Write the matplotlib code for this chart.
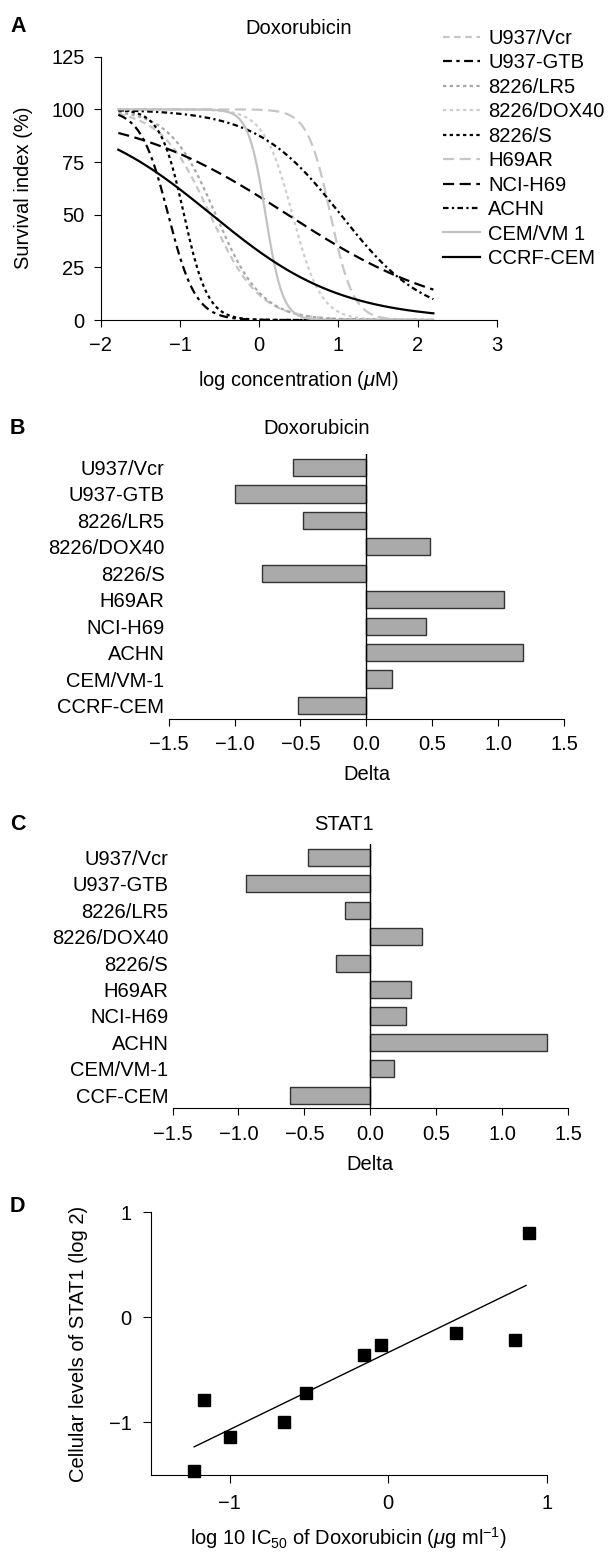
import numpy as np
import matplotlib
matplotlib.use("Agg")
import matplotlib.pyplot as plt
from matplotlib.lines import Line2D

plt.rcParams['font.family'] = ['Liberation Sans', 'DejaVu Sans']
plt.rcParams['mathtext.fontset'] = 'custom'
plt.rcParams['mathtext.rm'] = 'Liberation Sans'
plt.rcParams['mathtext.it'] = 'Liberation Sans:italic'
plt.rcParams['axes.unicode_minus'] = True

FS = 14.5

# --- Panel A: dose-response fits ---
curve_names = ['U937/Vcr', 'U937-GTB', '8226/LR5', '8226/DOX40', '8226/S',
               'H69AR', 'NCI-H69', 'ACHN', 'CEM/VM 1', 'CCRF-CEM']
log_ic50 = [-0.62, -1.15, -0.55, 0.42, -0.95, 0.90, 0.36, 1.03, 0.08, -0.60]
hill_slope = [1.4, 2.5, 1.5, 2.4, 2.9, 3.0, 0.42, 0.82, 4.0, 0.53]
top_level = [100, 100, 100, 100, 100, 100, 100, 100, 100, 100]
conc_range = [-1.78, 2.2]
curve_colors = ['#c6c6c6', 'black', '#a8a8a8', '#cdcdcd', 'black',
                '#c6c6c6', 'black', 'black', '#c2c2c2', 'black']
curve_styles = [(0, (3, 2)), (0, (4, 2, 1.5, 2)), (0, (1.5, 1.5)), (0, (1.5, 1.5)),
                (0, (1.5, 1.5)), (0, (5, 2.5)), (0, (5, 2.5)), (0, (2.5, 1.5, 1, 1.5)),
                '-', '-']

# --- Panel B / C: delta values ---
bar_names_b = ['U937/Vcr', 'U937-GTB', '8226/LR5', '8226/DOX40', '8226/S',
               'H69AR', 'NCI-H69', 'ACHN', 'CEM/VM-1', 'CCRF-CEM']
delta_dox = [-0.56, -1.00, -0.48, 0.48, -0.79, 1.04, 0.45, 1.19, 0.19, -0.52]
bar_names_c = ['U937/Vcr', 'U937-GTB', '8226/LR5', '8226/DOX40', '8226/S',
               'H69AR', 'NCI-H69', 'ACHN', 'CEM/VM-1', 'CCF-CEM']
delta_stat1 = [-0.47, -0.94, -0.19, 0.39, -0.26, 0.31, 0.27, 1.34, 0.18, -0.61]

# --- Panel D: scatter ---
log_ic50_dox = [-1.225, -1.163, -1.002, -0.661, -0.522, -0.151, -0.045, 0.43, 0.80, 0.889]
stat1_level = [-1.463, -0.79, -1.141, -0.997, -0.72, -0.355, -0.26, -0.144, -0.218, 0.807]

W, H = 613, 1552
fig = plt.figure(figsize=(W / 100, H / 100), dpi=100)


def rect(l, r, t, b):
    return [l / W, 1 - b / H, (r - l) / W, (b - t) / H]


def ftext(x, y, s, **kw):
    kw.setdefault('fontsize', FS)
    fig.text(x / W, 1 - y / H, s, **kw)


# ---------------- Panel A ----------------
ax1 = fig.add_axes(rect(100.9, 496.7, 56.7, 320))
xs = np.linspace(conc_range[0], conc_range[1], 400)
handles = []
for name, ic, h, tp, col, ls in zip(curve_names, log_ic50, hill_slope, top_level,
                                    curve_colors, curve_styles):
    ys = tp / (1 + 10 ** (h * (xs - ic)))
    ax1.plot(xs, ys, color=col, linestyle=ls, lw=1.6)
    handles.append(Line2D([], [], color=col, linestyle=ls, lw=1.6))
ax1.set_xlim(-2, 3)
ax1.set_ylim(0, 125)
ax1.set_xticks([-2, -1, 0, 1, 2, 3])
ax1.set_yticks([0, 25, 50, 75, 100, 125])
for s in ['top', 'right']:
    ax1.spines[s].set_visible(False)
ax1.tick_params(direction='out', length=4.8, width=0.8, pad=7, labelsize=FS)
fig.legend(handles, curve_names, loc='upper left', bbox_to_anchor=(443 / W, 1 - 29 / H),
           frameon=False, fontsize=FS, borderpad=0, borderaxespad=0,
           handlelength=1.85, handletextpad=0.4, labelspacing=0.27)
ftext(298.8, 28, 'Doxorubicin', ha='center', va='center')
ftext(23.5, 188, 'Survival index (%)', ha='center', va='center', rotation=90)
ftext(298.8, 380, r'log concentration ($\mu$M)', ha='center', va='center')
ftext(10, 27, 'A', ha='left', va='center', fontweight='bold', fontsize=15.5)


# ---------------- Panels B and C ----------------
def bar_panel(box, names, vals, title, title_y, letter, xlab_y):
    ax = fig.add_axes(rect(*box))
    pos = np.arange(len(names))
    ax.barh(pos, vals, height=0.65, color='#aaaaaa', edgecolor='#333333', lw=1)
    ax.axvline(0, color='black', lw=1)
    ax.set_ylim(len(names) - 0.5, -0.5)
    ax.set_xlim(-1.5, 1.5)
    ax.set_yticks(pos)
    ax.set_yticklabels(names)
    ticks = [-1.5, -1.0, -0.5, 0.0, 0.5, 1.0, 1.5]
    ax.set_xticks(ticks)
    ax.set_xticklabels(['%.1f' % v if v >= 0 else '\u2212%.1f' % -v for v in ticks])
    for s in ['top', 'right', 'left']:
        ax.spines[s].set_visible(False)
    ax.tick_params(axis='y', length=0, pad=3, labelsize=FS)
    ax.tick_params(axis='x', direction='out', length=4.8, width=0.8, pad=7, labelsize=FS)
    zero_px = box[0] + (box[1] - box[0]) / 2
    ftext(zero_px + 3, title_y, title, ha='right', va='center')
    ftext(10, title_y, letter, ha='left', va='center', fontweight='bold', fontsize=15.5)
    ftext(zero_px, xlab_y, 'Delta', ha='center', va='center')
    return ax


bar_panel((168.6, 564.3, 454.3, 718.7), bar_names_b, delta_dox, 'Doxorubicin', 429, 'B', 775)
bar_panel((172.5, 568.2, 844.3, 1108.4), bar_names_c, delta_stat1, 'STAT1', 825, 'C', 1164)

# ---------------- Panel D ----------------
ax4 = fig.add_axes(rect(150.6, 546.7, 1212.3, 1475))
ax4.plot(log_ic50_dox, stat1_level, 's', color='black', ms=8, clip_on=False)
fit = np.polyfit(log_ic50_dox, stat1_level, 1)
fx = np.array([min(log_ic50_dox), 0.87])
ax4.plot(fx, np.polyval(fit, fx), color='black', lw=1)
ax4.set_xlim(-1.5, 1)
ax4.set_ylim(-1.5, 1)
ax4.set_xticks([-1, 0, 1])
ax4.set_yticks([-1, 0, 1])
for s in ['top', 'right']:
    ax4.spines[s].set_visible(False)
ax4.tick_params(direction='out', length=5.5, width=0.8, pad=8, labelsize=FS)
ftext(10, 1206.7, 'D', ha='left', va='center', fontweight='bold', fontsize=15.5)
ftext(78.3, 1343.7, 'Cellular levels of STAT1 (log 2)', ha='center', va='center', rotation=90)
ftext(348.6, 1538, r'log 10 IC$_{50}$ of Doxorubicin ($\mu$g ml$^{-1}$)', ha='center', va='center')

fig.savefig('out.png', dpi=100)
